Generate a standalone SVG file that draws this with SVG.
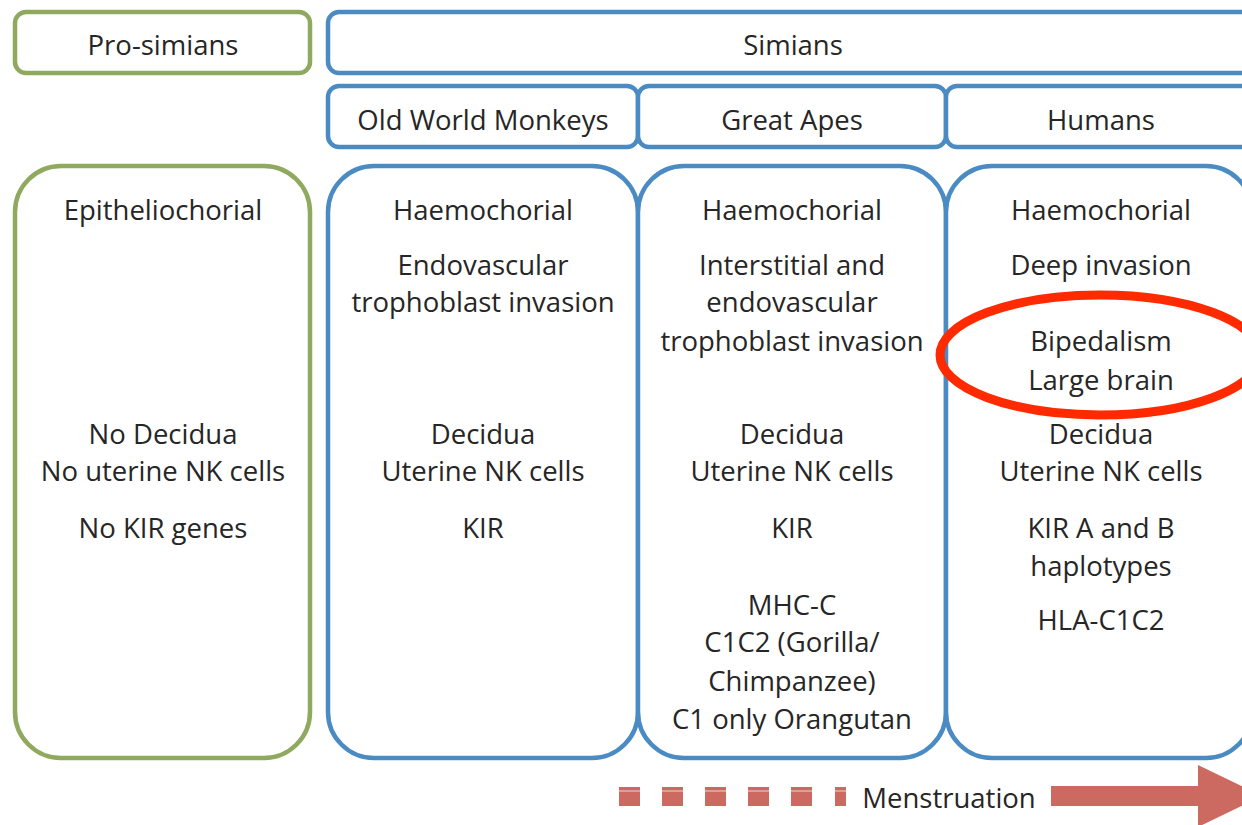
<svg xmlns="http://www.w3.org/2000/svg" width="1242" height="825" viewBox="0 0 1242 825">
<style>
.g{fill:#fff;stroke:#8FAA5E;stroke-width:4.5}
.b{fill:#fff;stroke:#4A8BC4;stroke-width:4.5}
text{font-family:"Open Sans","Liberation Sans",sans-serif;font-size:27.5px;fill:#262626;text-anchor:middle}
.m{fill:#CC6A62}
</style>
<rect width="1242" height="825" fill="#fff"/>
<g id="prosimians-header"><rect class="g" x="15" y="12" width="295" height="61" rx="11"/><text x="163" y="55">Pro-simians</text></g>
<g id="simians-header"><rect class="b" x="328" y="12" width="940" height="61" rx="11"/><text x="793" y="55">Simians</text></g>
<g id="owm-header"><rect class="b" x="328" y="86" width="310" height="61" rx="11"/><text x="483" y="130">Old World Monkeys</text></g>
<g id="apes-header"><rect class="b" x="638" y="86" width="308" height="61" rx="11"/><text x="792" y="130">Great Apes</text></g>
<g id="humans-header"><rect class="b" x="946" y="86" width="320" height="61" rx="11"/><text x="1101" y="130">Humans</text></g>
<g id="prosimians"><rect class="g" x="15" y="166" width="295" height="592" rx="46"/>
<text x="163" y="220">Epitheliochorial</text>
<text x="163" y="444">No Decidua</text><text x="163" y="481">No uterine NK cells</text>
<text x="163" y="538">No KIR genes</text></g>
<g id="owm"><rect class="b" x="328" y="166" width="310" height="592" rx="46"/>
<text x="483" y="220">Haemochorial</text>
<text x="483" y="275">Endovascular</text><text x="483" y="312">trophoblast invasion</text>
<text x="483" y="444">Decidua</text><text x="483" y="481">Uterine NK cells</text>
<text x="483" y="538">KIR</text></g>
<g id="apes"><rect class="b" x="638" y="166" width="308" height="592" rx="46"/>
<text x="792" y="220">Haemochorial</text>
<text x="792" y="275">Interstitial and</text><text x="792" y="312">endovascular</text><text x="792" y="351">trophoblast invasion</text>
<text x="792" y="444">Decidua</text><text x="792" y="481">Uterine NK cells</text>
<text x="792" y="538">KIR</text>
<text x="792" y="615">MHC-C</text><text x="792" y="652">C1C2 (Gorilla/</text><text x="792" y="691">Chimpanzee)</text><text x="792" y="729">C1 only Orangutan</text></g>
<g id="humans"><rect class="b" x="946" y="166" width="306" height="592" rx="46"/>
<text x="1101" y="220">Haemochorial</text>
<text x="1101" y="275">Deep invasion</text>
<text x="1101" y="351">Bipedalism</text><text x="1101" y="390">Large brain</text>
<text x="1101" y="444">Decidua</text><text x="1101" y="481">Uterine NK cells</text>
<text x="1101" y="538">KIR A and B</text><text x="1101" y="576">haplotypes</text>
<text x="1101" y="630">HLA-C1C2</text></g>
<g id="highlight"><ellipse cx="1100" cy="355" rx="160" ry="60" fill="none" stroke="#FF2A00" stroke-width="9"/></g>
<g id="menstruation">
<rect class="m" x="619" y="787" width="21" height="19"/>
<rect class="m" x="662" y="787" width="21" height="19"/>
<rect class="m" x="705" y="787" width="21" height="19"/>
<rect class="m" x="748" y="787" width="21" height="19"/>
<rect class="m" x="791" y="787" width="21" height="19"/>
<rect class="m" x="835" y="787" width="11" height="19"/>
<g stroke="#fff" stroke-width="1.2" opacity="0.7"><line x1="615" y1="791" x2="850" y2="791"/></g>
<text x="949" y="808">Menstruation</text>
<polygon class="m" points="1051,786 1198,786 1198,765 1262,796 1198,827 1198,806 1051,806"/>
</g>
</svg>
